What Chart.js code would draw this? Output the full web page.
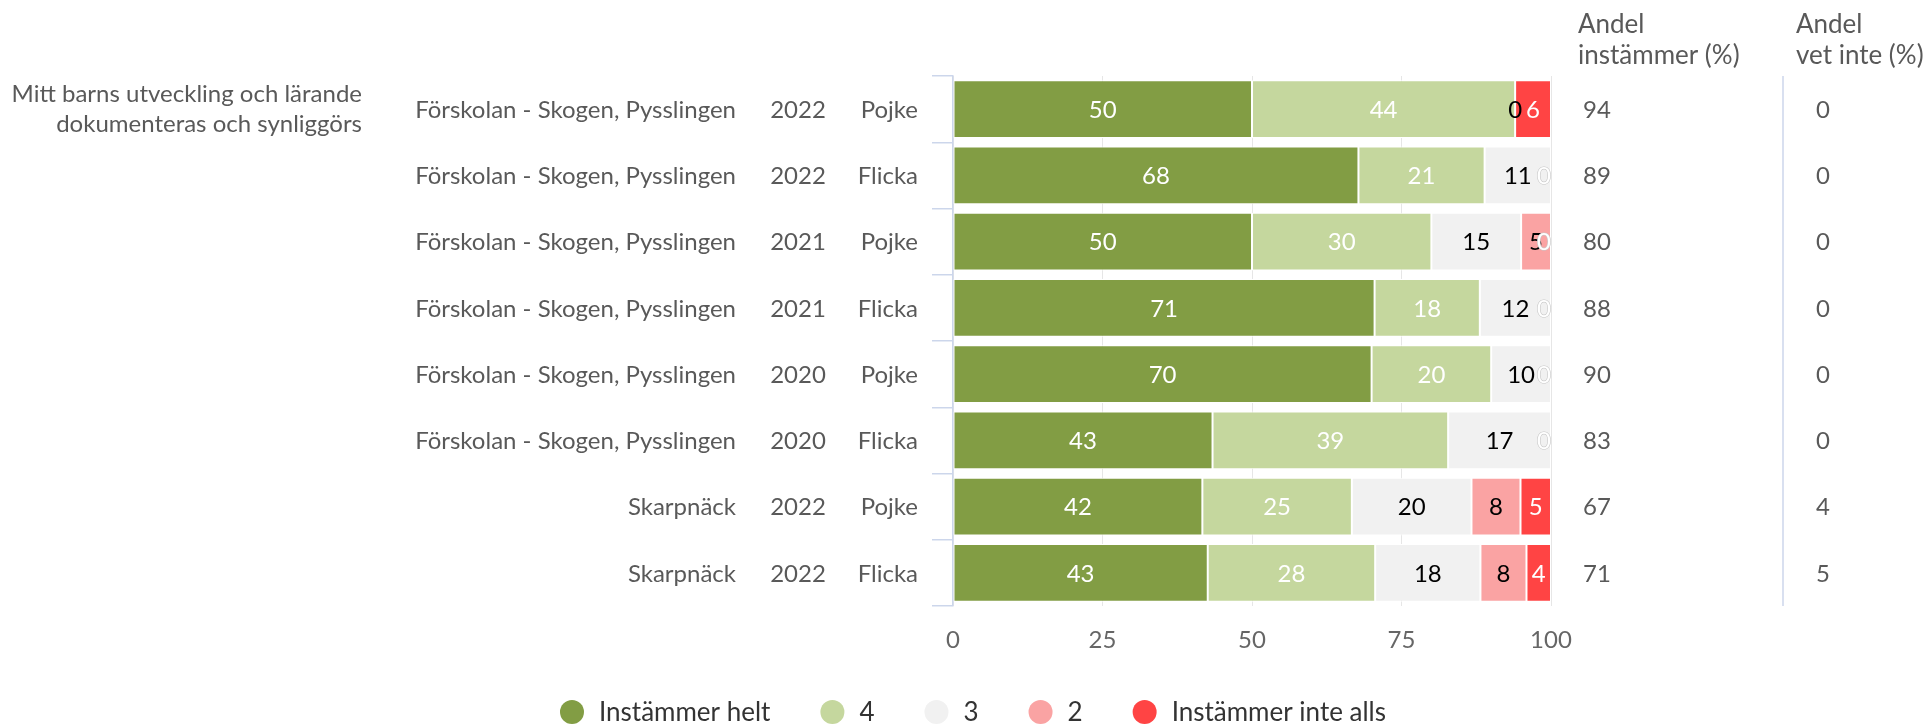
<!DOCTYPE html>
<html>
<head>
<meta charset="utf-8">
<script src="https://cdn.jsdelivr.net/npm/chart.js@4/dist/chart.umd.min.js"></script>
<style>
  html, body { margin: 0; padding: 0; background: #fff; }
  #wrap { width: 1925px; height: 726px; position: relative; }
</style>
</head>
<body>
<div id="wrap"><canvas id="chart"></canvas></div>
<script>
// question text, shown next to the first row
var question = ['Mitt barns utveckling och lärande', 'dokumenteras och synliggörs'];

// one entry per bar
var units = ['Förskolan - Skogen, Pysslingen', 'Förskolan - Skogen, Pysslingen', 'Förskolan - Skogen, Pysslingen',
    'Förskolan - Skogen, Pysslingen', 'Förskolan - Skogen, Pysslingen', 'Förskolan - Skogen, Pysslingen',
    'Skarpnäck', 'Skarpnäck'];
var years = ['2022', '2022', '2021', '2021', '2020', '2020', '2022', '2022'];
var genders = ['Pojke', 'Flicka', 'Pojke', 'Flicka', 'Pojke', 'Flicka', 'Pojke', 'Flicka'];

// answer shares (%)
var helt = [50, 67.8, 50, 70.5, 70, 43.4, 41.7, 42.6];
var fyra = [44, 21.1, 30, 17.6, 20, 39.4, 25.0, 28.0];
var tre = [0, 11.1, 15, 11.9, 10, 17.2, 20.0, 17.6];
var tva = [0, 0, 5, 0, 0, 0, 8.2, 7.7];
var inteAlls = [6, 0, 0, 0, 0, 0, 5.1, 4.1];

// right-hand columns
var andelInstammer = [94, 89, 80, 88, 90, 83, 67, 71];
var andelVetInte = [0, 0, 0, 0, 0, 0, 4, 5];

var xTicks = [0, 25, 50, 75, 100];

var FONT = 'Lato, "Open Sans", sans-serif';
var TEXT = '#595959';

var labelColors = ['#ffffff', '#ffffff', '#000000', '#000000', '#ffffff'];

var barLabels = {
    id: 'barLabels',
    afterDatasetsDraw: function(chart) {
        var ctx = chart.ctx;
        var sets = chart.data.datasets;
        ctx.save();
        ctx.font = '24px ' + FONT;
        ctx.textAlign = 'center';
        ctx.textBaseline = 'middle';
        sets.forEach(function(ds, i) {
            var meta = chart.getDatasetMeta(i);
            meta.data.forEach(function(el, j) {
                var v = ds.data[j];
                if (v === 0 && i < sets.length - 1 && sets[i + 1].data[j] === 0) return;
                var txt = String(Math.round(v));
                var w = ctx.measureText(txt).width;
                var x = (el.x + el.base) / 2;
                x = Math.min(x, chart.chartArea.right - w / 2);
                var y = el.y + 1;
                if (v === 0 && labelColors[i] === '#ffffff') {
                    ctx.lineWidth = 1.2;
                    ctx.strokeStyle = '#c8c8c8';
                    ctx.strokeText(txt, x, y);
                }
                ctx.fillStyle = labelColors[i];
                ctx.fillText(txt, x, y);
            });
        });
        ctx.restore();
    }
};

var sideText = {
    id: 'sideText',
    afterDraw: function(chart) {
        var ctx = chart.ctx;
        var ys = chart.scales.y;
        var area = chart.chartArea;
        ctx.save();
        ctx.font = '24px ' + FONT;
        ctx.fillStyle = TEXT;
        ctx.textBaseline = 'middle';

        var y0 = ys.getPixelForValue(0);
        ctx.textAlign = 'right';
        ctx.fillText(question[0], 362, y0 - 15);
        ctx.fillText(question[1], 362, y0 + 15);

        units.forEach(function(u, i) {
            var y = ys.getPixelForValue(i) + 1;
            ctx.textAlign = 'right';
            ctx.fillText(u, 736, y);
            ctx.textAlign = 'center';
            ctx.fillText(years[i], 798, y);
            ctx.textAlign = 'right';
            ctx.fillText(genders[i], 918, y);
            ctx.textAlign = 'left';
            ctx.fillText(String(andelInstammer[i]), 1583, y);
            ctx.fillText(String(andelVetInte[i]), 1816, y);
        });

        ctx.font = '26px ' + FONT;
        ctx.textAlign = 'left';
        ctx.fillText('Andel', 1578, 25);
        ctx.fillText('instämmer (%)', 1578, 56);
        ctx.fillText('Andel', 1796, 25);
        ctx.fillText('vet inte (%)', 1796, 56);

        // divider between the two columns
        ctx.strokeStyle = '#ccd6eb';
        ctx.lineWidth = 1.5;
        ctx.beginPath();
        ctx.moveTo(1783, area.top);
        ctx.lineTo(1783, area.bottom);
        ctx.stroke();

        // legend
        var sets = chart.data.datasets;
        var total = 0;
        sets.forEach(function(ds, i) {
            total += 39 + ctx.measureText(ds.label).width;
            if (i < sets.length - 1) total += 50;
        });
        var x = 973 - total / 2;
        var ly = 712;
        sets.forEach(function(ds) {
            ctx.fillStyle = ds.backgroundColor;
            ctx.beginPath();
            ctx.arc(x + 12, ly, 12, 0, Math.PI * 2);
            ctx.fill();
            ctx.fillStyle = '#333333';
            ctx.textAlign = 'left';
            ctx.fillText(ds.label, x + 39, ly + 1);
            x += 39 + ctx.measureText(ds.label).width + 50;
        });
        ctx.restore();
    }
};

function makeSet(label, data, color) {
    return {
        label: label,
        data: data,
        backgroundColor: color,
        borderColor: '#ffffff',
        borderWidth: 1,
        borderSkipped: false,
        barPercentage: 0.87,
        categoryPercentage: 1
    };
}

var chart = new Chart(document.getElementById('chart'), {
    type: 'bar',
    data: {
        labels: genders.map(function(g, i) { return units[i] + ' ' + years[i] + ' ' + g; }),
        datasets: [
            makeSet('Instämmer helt', helt, '#829d44'),
            makeSet('4', fyra, '#c5d79e'),
            makeSet('3', tre, '#f1f1f1'),
            makeSet('2', tva, '#faa3a3'),
            makeSet('Instämmer inte alls', inteAlls, '#ff4444')
        ]
    },
    options: {
        indexAxis: 'y',
        responsive: true,
        maintainAspectRatio: false,
        animation: false,
        layout: {
            padding: { left: 953, right: 374, top: 76, bottom: 0 }
        },
        scales: {
            x: {
                stacked: true,
                min: 0,
                max: 100,
                afterBuildTicks: function(scale) {
                    scale.ticks = xTicks.map(function(v) { return { value: v }; });
                },
                afterFit: function(scale) { scale.height = 120; },
                border: { display: false },
                grid: { color: '#e6e6e6', lineWidth: 1, drawTicks: false },
                ticks: {
                    padding: 20,
                    color: '#666666',
                    font: { family: FONT, size: 24 }
                }
            },
            y: {
                stacked: true,
                afterFit: function(scale) { scale.width = 0; },
                border: { display: true, color: '#ccd6eb', width: 1.5 },
                grid: {
                    offset: true,
                    drawOnChartArea: false,
                    drawTicks: true,
                    tickLength: 21,
                    color: '#ccd6eb',
                    lineWidth: 1.5
                },
                ticks: { display: false }
            }
        },
        plugins: {
            legend: { display: false },
            tooltip: { enabled: false }
        }
    },
    plugins: [barLabels, sideText]
});
</script>
</body>
</html>
